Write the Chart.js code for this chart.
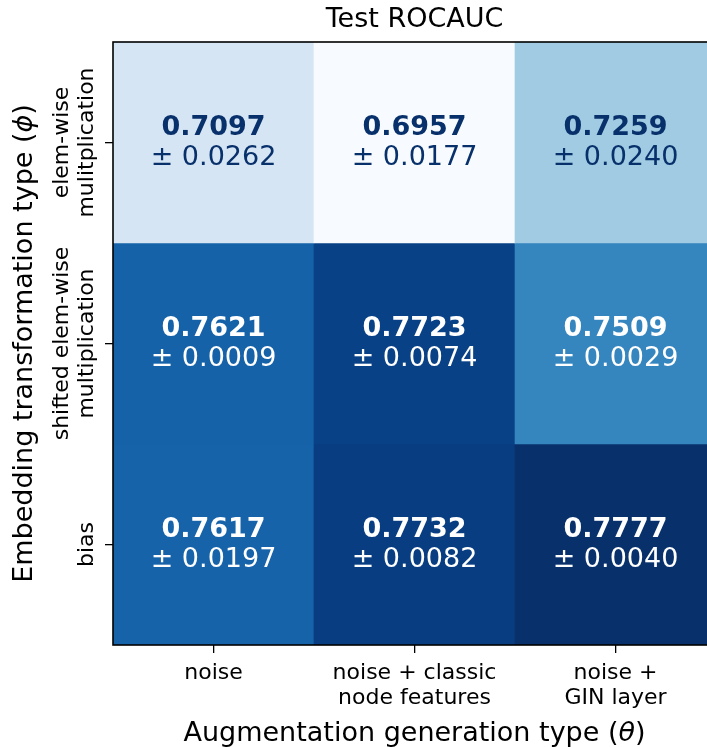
<!DOCTYPE html>
<html>
<head>
<meta charset="utf-8">
<script src="https://cdn.jsdelivr.net/npm/chart.js@4/dist/chart.umd.min.js"></script>
<style>
html, body { margin: 0; padding: 0; overflow: hidden; background: #fff; }
#wrap { width: 720px; height: 747px; }
</style>
</head>
<body>
<div id="wrap"><canvas id="heatCanvas"></canvas></div>
<script>
// columns: augmentation generation type
const augTypes = [["noise"], ["noise + classic", "node features"], ["noise +", "GIN layer"]];
// rows: embedding transformation type (top to bottom)
const embTypes = [["elem-wise", "mulitplication"], ["shifted elem-wise", "multiplication"], ["bias"]];

const meanElemWise = [0.7097, 0.6957, 0.7259];
const meanShifted  = [0.7621, 0.7723, 0.7509];
const meanBias     = [0.7617, 0.7732, 0.7777];
const stdElemWise  = [0.0262, 0.0177, 0.0240];
const stdShifted   = [0.0009, 0.0074, 0.0029];
const stdBias      = [0.0197, 0.0082, 0.0040];

const means = [meanElemWise, meanShifted, meanBias];
const stds = [stdElemWise, stdShifted, stdBias];

/**
 * Blues colormap
 */
const bluesStops = ['#f7fbff', '#deebf7', '#c6dbef', '#9ecae1', '#6baed6', '#4292c6', '#2171b5', '#08519c', '#08306b'];
const hexRgb = h => [1, 3, 5].map(i => parseInt(h.slice(i, i + 2), 16));

const allMeans = means.flat();
const vmin = Math.min(...allMeans);
const vmax = Math.max(...allMeans);
const norm = v => (v - vmin) / (vmax - vmin);

function blues(v) {
    const t = Math.min(1, Math.max(0, norm(v))) * (bluesStops.length - 1);
    const i = Math.min(bluesStops.length - 2, Math.floor(t));
    const f = t - i;
    const a = hexRgb(bluesStops[i]), b = hexRgb(bluesStops[i + 1]);
    const c = a.map((x, k) => Math.round(x + (b[k] - x) * f));
    return `rgb(${c[0]},${c[1]},${c[2]})`;
}

const FONT = "'DejaVu Sans', sans-serif";

// text with an italic math symbol, centred on (0,0) of the current transform
function drawRuns(ctx, runs, size) {
    const fonts = runs.map(r => (r.it ? 'italic ' : '') + size + 'px ' + FONT);
    const widths = runs.map((r, i) => { ctx.font = fonts[i]; return ctx.measureText(r.t).width; });
    let x = -widths.reduce((a, b) => a + b, 0) / 2;
    ctx.textAlign = 'left';
    runs.forEach((r, i) => {
        ctx.font = fonts[i];
        ctx.fillText(r.t, x, 0);
        x += widths[i];
    });
    ctx.textAlign = 'center';
}

const labelPlugin = {
    id: 'heatLabels',
    afterDraw(chart) {
        const ctx = chart.ctx;
        const area = chart.chartArea;
        const xs = chart.scales.x, ys = chart.scales.y;
        const midX = (area.left + area.right) / 2;
        const midY = (area.top + area.bottom) / 2;
        ctx.save();
        ctx.textAlign = 'center';
        ctx.textBaseline = 'alphabetic';

        // cell annotations
        means.forEach((row, r) => {
            row.forEach((m, c) => {
                const x = xs.getPixelForValue(c);
                const y = ys.getPixelForValue(r + 0.5);
                ctx.fillStyle = norm(m) > 0.5 ? '#ffffff' : '#08306b';
                ctx.font = `bold 27px ${FONT}`;
                ctx.fillText(m.toFixed(4), x, y - 8);
                ctx.font = `27px ${FONT}`;
                ctx.fillText('± ' + stds[r][c].toFixed(4), x, y + 22);
            });
        });

        // frame
        ctx.strokeStyle = '#000';
        ctx.lineWidth = 1.6;
        ctx.strokeRect(area.left, area.top, area.right - area.left, area.bottom - area.top);

        ctx.fillStyle = '#000';
        // x tick labels
        ctx.font = `22px ${FONT}`;
        augTypes.forEach((lines, c) => {
            const x = xs.getPixelForValue(c);
            lines.forEach((ln, i) => ctx.fillText(ln, x, area.bottom + 34 + i * 25));
        });

        // y tick labels (rotated)
        embTypes.forEach((lines, r) => {
            const y = ys.getPixelForValue(r + 0.5);
            lines.forEach((ln, i) => {
                const bx = area.left - 20 - (lines.length - 1 - i) * 25;
                ctx.save();
                ctx.translate(bx, y);
                ctx.rotate(-Math.PI / 2);
                ctx.fillText(ln, 0, 0);
                ctx.restore();
            });
        });

        // titles
        ctx.font = `27px ${FONT}`;
        ctx.fillText('Test ROCAUC', midX, area.top - 15);

        ctx.save();
        ctx.translate(midX, area.bottom + 96);
        drawRuns(ctx, [{ t: 'Augmentation generation type (' }, { t: 'θ', it: true }, { t: ')' }], 27);
        ctx.restore();

        ctx.save();
        ctx.translate(area.left - 81, midY);
        ctx.rotate(-Math.PI / 2);
        drawRuns(ctx, [{ t: 'Embedding transformation type (' }, { t: 'ϕ', it: true }, { t: ')' }], 27);
        ctx.restore();
        ctx.restore();
    }
};

const heatCanvas = document.querySelector('#heatCanvas');

const heatChart = new Chart(heatCanvas, {
    type: 'bar',
    data: {
        labels: augTypes.map(l => l.join(' ')),
        datasets: means.map((row, r) => ({
            label: embTypes[r].join(' '),
            data: row.map(() => [r, r + 1]),
            backgroundColor: row.map(v => blues(v)),
            borderWidth: 0,
            categoryPercentage: 1,
            barPercentage: 1,
            grouped: false
        }))
    },
    options: {
        responsive: true,
        maintainAspectRatio: false,
        animation: false,
        layout: { padding: { top: 42, right: 4, left: 0, bottom: 0 } },
        plugins: {
            legend: { display: false },
            tooltip: { enabled: false }
        },
        scales: {
            x: {
                type: 'category',
                offset: true,
                border: { display: false },
                grid: { drawOnChartArea: false, offset: false, tickLength: 8, color: '#000', lineWidth: 1.3 },
                ticks: { display: false },
                afterFit: s => { s.height = 102; }
            },
            y: {
                type: 'linear',
                reverse: true,
                min: 0,
                max: 3,
                border: { display: false },
                grid: { drawOnChartArea: false, tickLength: 8, color: '#000', lineWidth: 1.3 },
                ticks: { display: false },
                afterBuildTicks: s => { s.ticks = embTypes.map((_, i) => ({ value: i + 0.5 })); },
                afterFit: s => { s.width = 113; }
            }
        }
    },
    plugins: [labelPlugin]
});
</script>
</body>
</html>
